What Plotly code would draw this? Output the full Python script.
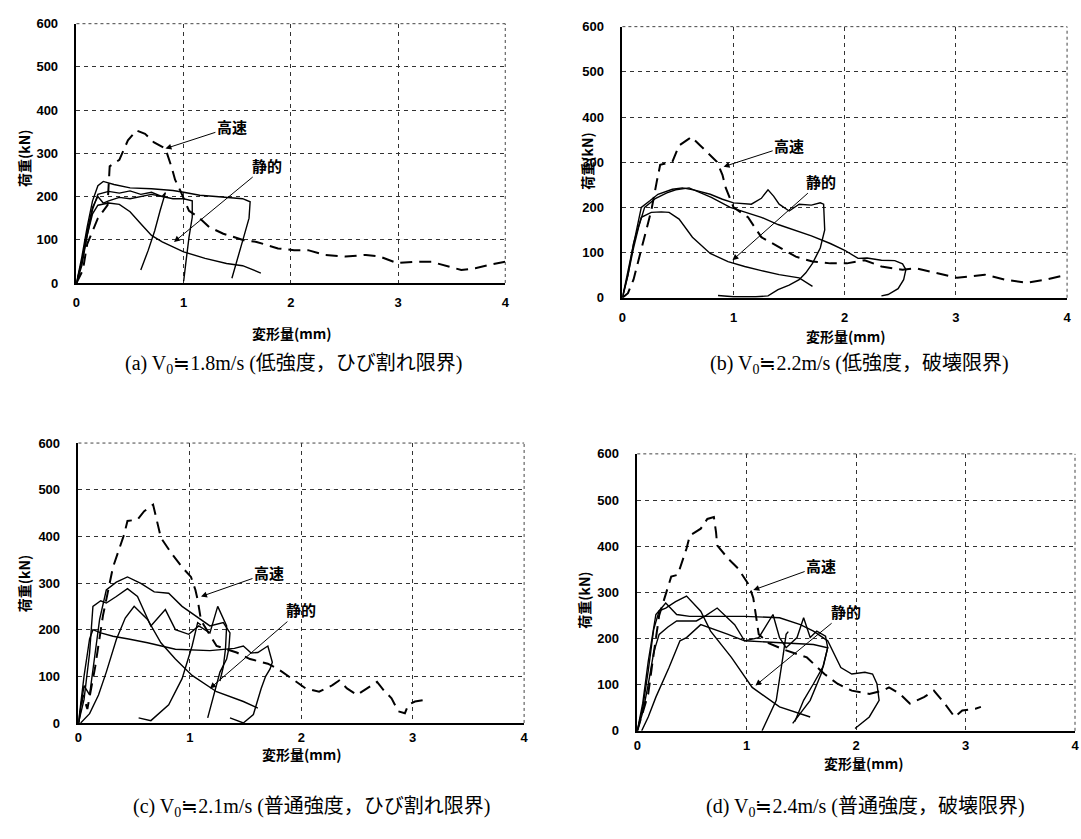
import plotly.graph_objects as go

W, H = 1081, 839

# ---------------- data (deformation mm, load kN) ----------------
# (a)
a_dyn_x = [0, 0.06, 0.1, 0.2, 0.29, 0.31, 0.4, 0.48, 0.56, 0.64, 0.72, 0.83, 0.89, 0.92, 0.97, 1.05, 1.14, 1.24, 1.37, 1.56, 1.68, 1.88, 2.03, 2.16, 2.32, 2.51, 2.70, 2.83, 2.99, 3.15, 3.31, 3.47, 3.59, 3.72, 3.85, 4.0]
a_dyn_y = [0, 30, 90, 150, 180, 270, 285, 330, 353, 345, 326, 311, 266, 239, 213, 167, 152, 129, 114, 99, 95, 80, 76, 76, 65, 61, 65, 61, 46, 49, 49, 38, 30, 34, 42, 49]
a_s1_x = [0, 0.05, 0.1, 0.15, 0.2, 0.25, 0.35, 0.5, 0.7, 0.9, 1.0, 1.15, 1.3, 1.45, 1.55, 1.62, 1.61, 1.56, 1.51, 1.45]
a_s1_y = [0, 60, 130, 190, 225, 235, 228, 220, 218, 214, 210, 203, 200, 197, 195, 188, 150, 106, 61, 11]
a_s2_x = [0, 0.05, 0.1, 0.15, 0.2, 0.3, 0.4, 0.5, 0.6, 0.7, 0.8, 0.9, 1.0, 1.08, 1.08, 1.05, 1.02, 1.0]
a_s2_y = [0, 40, 110, 170, 205, 212, 208, 213, 205, 210, 200, 195, 195, 190, 152, 106, 46, 4]
a_s3_x = [0, 0.05, 0.1, 0.15, 0.2, 0.25, 0.3, 0.4, 0.5, 0.6, 0.7, 0.8, 0.83, 0.78, 0.73, 0.67, 0.6]
a_s3_y = [0, 50, 120, 175, 200, 185, 190, 198, 195, 200, 205, 200, 209, 167, 121, 76, 30]
a_s4_x = [0, 0.05, 0.1, 0.15, 0.2, 0.3, 0.4, 0.5, 0.6, 0.7, 0.8, 1.0, 1.2, 1.4, 1.55, 1.65, 1.72]
a_s4_y = [0, 50, 110, 160, 180, 185, 182, 165, 137, 110, 95, 72, 57, 45, 40, 30, 23]

# (b)
b_dyn_x = [0, 0.05, 0.1, 0.15, 0.2, 0.26, 0.31, 0.34, 0.45, 0.51, 0.6, 0.62, 0.7, 0.79, 0.85, 0.9, 0.93, 1.0, 1.13, 1.25, 1.41, 1.56, 1.71, 1.87, 2.02, 2.18, 2.33, 2.52, 2.64, 2.83, 3.01, 3.26, 3.44, 3.63, 3.81, 4.0]
b_dyn_y = [0, 10, 40, 90, 134, 193, 258, 294, 301, 337, 352, 356, 337, 316, 301, 272, 243, 200, 178, 134, 112, 91, 80, 76, 76, 83, 69, 62, 65, 54, 44, 51, 40, 33, 40, 51]
b_s1_x = [0, 0.05, 0.1, 0.17, 0.25, 0.32, 0.45, 0.54, 0.65, 0.79, 0.9, 1.0, 1.16, 1.25, 1.31, 1.36, 1.41, 1.5, 1.59, 1.7, 1.78, 1.81, 1.82, 1.78, 1.71, 1.65, 1.59, 1.5, 1.4, 1.31, 1.2, 1.0, 0.86]
b_s1_y = [0, 60, 120, 200, 215, 229, 240, 243, 238, 229, 218, 210, 207, 220, 239, 225, 207, 192, 207, 205, 210, 207, 150, 110, 76, 55, 40, 28, 18, 4, 2, 2, 5]
b_s2_x = [0, 0.05, 0.1, 0.15, 0.2, 0.3, 0.4, 0.48, 0.6, 0.8, 0.97, 1.1, 1.25, 1.4, 1.56, 1.7, 1.87, 2.0, 2.12, 2.2, 2.33, 2.45, 2.52, 2.55, 2.53, 2.48, 2.39, 2.33]
b_s2_y = [0, 50, 110, 160, 200, 220, 232, 239, 243, 222, 200, 190, 178, 162, 149, 137, 120, 105, 87, 88, 83, 82, 75, 62, 40, 20, 7, 4]
b_s3_x = [0, 0.05, 0.1, 0.17, 0.26, 0.35, 0.42, 0.51, 0.63, 0.79, 0.95, 1.1, 1.25, 1.41, 1.59, 1.71]
b_s3_y = [0, 50, 120, 178, 189, 190, 189, 174, 134, 98, 80, 69, 60, 51, 44, 25]

# (c)
c_dyn_x = [0, 0.04, 0.08, 0.15, 0.22, 0.26, 0.28, 0.31, 0.41, 0.44, 0.53, 0.59, 0.67, 0.7, 0.74, 0.84, 0.93, 1.01, 1.05, 1.07, 1.1, 1.24, 1.42, 1.54, 1.7, 1.79, 1.91, 2.04, 2.16, 2.28, 2.34, 2.41, 2.5, 2.59, 2.68, 2.74, 2.81, 2.87, 2.93, 2.96, 3.02, 3.1]
c_dyn_y = [0, 60, 30, 120, 230, 278, 306, 334, 404, 433, 436, 454, 468, 440, 397, 362, 334, 313, 285, 264, 220, 165, 151, 137, 127, 116, 95, 74, 67, 81, 91, 74, 60, 74, 88, 70, 53, 25, 21, 39, 46, 49]
c_s1_x = [0, 0.05, 0.1, 0.15, 0.19, 0.25, 0.34, 0.44, 0.56, 0.68, 0.81, 0.93, 1.05, 1.18, 1.3, 1.36, 1.35, 1.33, 1.27, 1.21, 1.16]
c_s1_y = [0, 80, 60, 150, 222, 285, 302, 313, 299, 281, 278, 250, 229, 208, 215, 193, 160, 137, 109, 53, 11]
c_s2_x = [0, 0.05, 0.1, 0.13, 0.2, 0.25, 0.34, 0.44, 0.53, 0.65, 0.78, 0.87, 0.99, 1.08, 1.18, 1.25, 1.33, 1.32, 1.3, 1.27]
c_s2_y = [0, 50, 150, 250, 262, 257, 271, 288, 271, 208, 243, 200, 190, 208, 193, 250, 208, 160, 120, 90]
c_s3_x = [0.02, 0.1, 0.18, 0.25, 0.34, 0.42, 0.5, 0.62, 0.74, 0.87, 1.02, 1.24, 1.48, 1.61]
c_s3_y = [0, 20, 60, 109, 179, 225, 250, 222, 172, 137, 102, 67, 46, 32]
c_s4_x = [0, 0.05, 0.1, 0.13, 0.2, 0.31, 0.45, 0.62, 0.87, 1.18, 1.4, 1.48, 1.55, 1.61, 1.7, 1.74, 1.72, 1.68, 1.64, 1.57, 1.48, 1.36]
c_s4_y = [0, 100, 180, 200, 193, 186, 180, 172, 158, 155, 160, 165, 150, 151, 165, 130, 116, 100, 74, 18, 0, 11]
c_s5_x = [0.54, 0.65, 0.81, 0.93, 1.02, 1.07, 1.1]
c_s5_y = [11, 5, 39, 95, 165, 215, 210]

# (d)
d_dyn_x = [0, 0.05, 0.1, 0.14, 0.2, 0.31, 0.37, 0.45, 0.48, 0.58, 0.64, 0.7, 0.72, 0.73, 0.83, 0.92, 1.02, 1.06, 1.08, 1.11, 1.2, 1.35, 1.55, 1.71, 1.83, 1.96, 2.12, 2.24, 2.3, 2.4, 2.49, 2.62, 2.71, 2.81, 2.9, 2.97, 3.09, 3.14]
d_dyn_y = [0, 40, 80, 150, 250, 334, 338, 395, 423, 438, 459, 463, 430, 402, 373, 352, 316, 288, 252, 209, 190, 175, 159, 123, 102, 87, 80, 87, 94, 80, 59, 73, 87, 59, 30, 44, 48, 52]
d_s1_x = [0, 0.05, 0.1, 0.17, 0.26, 0.36, 0.48, 0.73, 0.98, 1.3, 1.49, 1.61, 1.74, 1.86, 1.96, 2.08, 2.15, 2.19, 2.21, 2.12, 1.99]
d_s1_y = [0, 60, 150, 252, 277, 252, 248, 248, 248, 245, 230, 216, 195, 137, 123, 127, 123, 102, 66, 30, 5]
d_s2_x = [0, 0.05, 0.1, 0.15, 0.2, 0.26, 0.35, 0.45, 0.58, 0.67, 0.86, 1.05, 1.3, 1.58]
d_s2_y = [0, 50, 130, 220, 260, 266, 280, 292, 259, 216, 159, 94, 52, 30]
d_s3_x = [0, 0.05, 0.1, 0.15, 0.2, 0.28, 0.36, 0.54, 0.63, 0.73, 0.89, 0.98, 1.11, 1.24, 1.3, 1.36, 1.46, 1.52, 1.58, 1.64, 1.72, 1.74, 1.68, 1.58, 1.42]
d_s3_y = [0, 40, 100, 170, 209, 225, 238, 238, 250, 266, 230, 195, 202, 252, 202, 180, 202, 245, 202, 216, 205, 180, 123, 66, 16]
d_s4_x = [0.04, 0.1, 0.17, 0.29, 0.39, 0.45, 0.58, 0.67, 0.83, 0.98, 1.3, 1.61, 1.74, 1.7, 1.61, 1.52, 1.44]
d_s4_y = [0, 30, 73, 137, 195, 202, 230, 223, 209, 195, 191, 187, 180, 140, 102, 66, 20]
d_s5_x = [1.14, 1.2, 1.27, 1.33, 1.36, 1.38]
d_s5_y = [0, 30, 66, 159, 209, 215]

x_ticks = [0, 1, 2, 3, 4]
y_ticks = [0, 100, 200, 300, 400, 500, 600]
label_dyn = "高速"
label_sta = "静的"
y_title = "荷重(kN)"
x_title = "変形量(mm)"
captions = [
    "(a) V<sub>0</sub>≒1.8m/s (低強度，ひび割れ限界)",
    "(b) V<sub>0</sub>≒2.2m/s (低強度，破壊限界)",
    "(c) V<sub>0</sub>≒2.1m/s (普通強度，ひび割れ限界)",
    "(d) V<sub>0</sub>≒2.4m/s (普通強度，破壊限界)",
]

panels = [
    dict(dyn=(a_dyn_x, a_dyn_y), sta=[(a_s1_x, a_s1_y), (a_s2_x, a_s2_y), (a_s3_x, a_s3_y), (a_s4_x, a_s4_y)]),
    dict(dyn=(b_dyn_x, b_dyn_y), sta=[(b_s1_x, b_s1_y), (b_s2_x, b_s2_y), (b_s3_x, b_s3_y)]),
    dict(dyn=(c_dyn_x, c_dyn_y), sta=[(c_s1_x, c_s1_y), (c_s2_x, c_s2_y), (c_s3_x, c_s3_y), (c_s4_x, c_s4_y), (c_s5_x, c_s5_y)]),
    dict(dyn=(d_dyn_x, d_dyn_y), sta=[(d_s1_x, d_s1_y), (d_s2_x, d_s2_y), (d_s3_x, d_s3_y), (d_s4_x, d_s4_y), (d_s5_x, d_s5_y)]),
]

# annotation anchor points (data coords): text centre, arrow head
ann_dyn = [((1.45, 361), (0.83, 311)),
           ((1.50, 337), (0.91, 290)),
           ((1.71, 322), (1.10, 271)),
           ((1.68, 358), (1.06, 305))]
ann_sta = [((1.78, 273), (0.91, 95)),
           ((1.79, 258), (0.99, 83)),
           ((2.00, 243), (1.18, 74)),
           ((1.91, 259), (1.08, 98))]

# ---------------- layout geometry (reference pixels) ----------------
boxes = [(73, 505, 17, 281), (623, 1071, 20, 296), (75, 524, 444, 729), (638, 1079, 455, 737)]
ytitle_pos = [(20, 154), (588, 157), (20, 587), (585, 604)]
xtitle_pos = [(290, 332), (848, 335), (300, 761), (866, 770)]
caption_pos = [(292, 364), (862, 364), (310, 815), (868, 815)]
xtick_len = [7, 7, 2, 2]


def px(X):
    return min(max(X / W, 0), 1)


def py(Y):
    return min(max(1 - Y / H, 0), 1)


fig = go.Figure()
tick_font = dict(family="Liberation Sans", size=13, color="black", weight="bold")
ytitle_font = dict(family="Noto Sans CJK JP", size=14, color="black", weight="bold")
xtitle_font = dict(family="Noto Sans CJK JP", size=14, color="black", weight="bold")

layout = dict(width=W, height=H, margin=dict(l=0, r=0, t=0, b=0),
              paper_bgcolor="white", plot_bgcolor="white", showlegend=False)
shapes, annotations = [], []

for i, (p, box) in enumerate(zip(panels, boxes)):
    n = "" if i == 0 else str(i + 1)
    xa, ya = "x" + n, "y" + n
    x0, x1, yt, yb = box
    layout["xaxis" + n] = dict(
        domain=[px(x0), px(x1)], anchor=ya, range=[0, 4], tickvals=x_ticks,
        showgrid=True, gridcolor="#333", gridwidth=1, griddash="4px,4px",
        showline=True, linecolor="black", linewidth=1.5, zeroline=False,
        ticks="outside", ticklen=xtick_len[i], tickcolor="rgba(0,0,0,0)", tickfont=tick_font)
    layout["yaxis" + n] = dict(
        domain=[py(yb), py(yt)], anchor=xa, range=[0, 600], tickvals=y_ticks,
        showgrid=True, gridcolor="#333", gridwidth=1, griddash="4px,4px",
        showline=True, linecolor="black", linewidth=1.5, zeroline=False,
        ticks="outside", ticklen=14, tickcolor="rgba(0,0,0,0)", tickfont=tick_font)
    shapes.append(dict(type="line", xref=xa + " domain", yref=ya + " domain",
                       x0=0, x1=1, y0=1, y1=1, line=dict(color="#444", width=1, dash="dot")))
    shapes.append(dict(type="line", xref=xa + " domain", yref=ya + " domain",
                       x0=1, x1=1, y0=0, y1=1, line=dict(color="#444", width=1, dash="dot")))
    for sx, sy in p["sta"]:
        fig.add_trace(go.Scatter(x=sx, y=sy, mode="lines", xaxis=xa, yaxis=ya,
                                 line=dict(color="black", width=1.4), hoverinfo="skip"))
    dx, dy = p["dyn"]
    fig.add_trace(go.Scatter(x=dx, y=dy, mode="lines", xaxis=xa, yaxis=ya,
                             line=dict(color="black", width=2, dash="12px,7px"), hoverinfo="skip"))
    for (tp, head), lab in ((ann_dyn[i], label_dyn), (ann_sta[i], label_sta)):
        annotations.append(dict(x=head[0], y=head[1], ax=tp[0], ay=tp[1], xref=xa, yref=ya,
                                axref=xa, ayref=ya, text=lab, showarrow=True, arrowhead=2,
                                arrowsize=1.2, arrowwidth=1, arrowcolor="black",
                                font=dict(family="Noto Sans CJK JP", size=15, color="black", weight="bold")))
    tx, ty = ytitle_pos[i]
    annotations.append(dict(x=px(tx), y=py(ty), xref="paper", yref="paper", text=y_title,
                            xanchor="center", yanchor="middle",
                            textangle=-90, showarrow=False, font=ytitle_font))
    tx, ty = xtitle_pos[i]
    annotations.append(dict(x=px(tx), y=py(ty), xref="paper", yref="paper", text=x_title,
                            xanchor="center", yanchor="middle", showarrow=False, font=xtitle_font))
    cx, cy = caption_pos[i]
    annotations.append(dict(x=px(cx), y=py(cy), xref="paper", yref="paper", text=captions[i],
                            xanchor="center", yanchor="middle", showarrow=False,
                            font=dict(family="Liberation Serif, Noto Sans CJK JP", size=20, color="black")))

layout["shapes"] = shapes
layout["annotations"] = annotations
fig.update_layout(**layout)
fig.write_html("out.html", config={"displayModeBar": False},
               post_script="document.body.style.margin='0';document.body.style.overflow='hidden';")
